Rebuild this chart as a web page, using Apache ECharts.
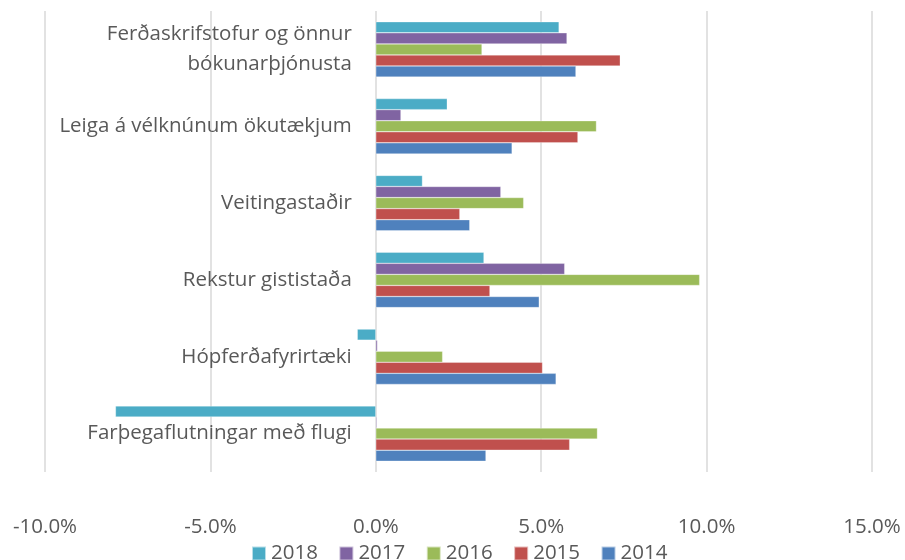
<!DOCTYPE html>
<html>
<head>
<meta charset="utf-8">
<script src="https://cdn.jsdelivr.net/npm/echarts@6/dist/echarts.min.js"></script>
<style>html,body{margin:0;padding:0;background:#fff}#c{width:905px;height:560px}</style>
</head>
<body>
<div id="c"></div>
<script>
var categories = ['Farþegaflutningar með flugi', 'Hópferðafyrirtæki', 'Rekstur gististaða', 'Veitingastaðir', 'Leiga á vélknúnum ökutækjum', 'Ferðaskrifstofur og önnur\nbókunarþjónusta'];
var years = ['2018', '2017', '2016', '2015', '2014'];
var legendOrder = ['2018', '2017', '2016', '2015', '2014'];
var v2014 = [3.33, 5.45, 4.94, 2.84, 4.12, 6.05];
var v2015 = [5.86, 5.04, 3.45, 2.54, 6.11, 7.39];
var v2016 = [6.70, 2.02, 9.79, 4.47, 6.67, 3.21];
var v2017 = [0.03, 0.05, 5.71, 3.78, 0.76, 5.78];
var v2018 = [-7.87, -0.56, 3.27, 1.41, 2.16, 5.54];
var xMin = -10, xMax = 15, xStep = 5;
var colors = {'2014': '#4F81BD', '2015': '#C0504D', '2016': '#9BBB59', '2017': '#8064A2', '2018': '#4BACC6'};
var values = {'2014': v2014, '2015': v2015, '2016': v2016, '2017': v2017, '2018': v2018};
var font = 'Open Sans';
var fs = 20.5;
var W = 905, gLeft = 45, gRight = 33;
var gridWidth = W - gLeft - gRight;
var zeroOffset = -((0 - xMin) / (xMax - xMin)) * gridWidth;
var chart = echarts.init(document.getElementById('c'), null, {renderer: 'canvas'});
chart.setOption({
  animation: false,
  textStyle: {fontFamily: font},
  grid: {left: gLeft, right: gRight, top: 11, bottom: 88, containLabel: false, outerBoundsMode: 'none'},
  legend: {
    data: legendOrder, top: 538, left: 246, itemWidth: 14, itemHeight: 14, itemGap: 20.5,
    icon: 'rect', textStyle: {fontSize: fs, color: '#595959', fontFamily: font}
  },
  xAxis: {
    type: 'value', min: xMin, max: xMax, interval: xStep,
    axisLine: {show: false}, axisTick: {show: false},
    splitLine: {lineStyle: {color: '#d9d9d9', width: 1.5}},
    axisLabel: {margin: 45, fontSize: fs, color: '#595959', fontFamily: font,
      formatter: function (v) { return v.toFixed(1) + '%'; }}
  },
  yAxis: {
    type: 'category', data: categories, offset: zeroOffset,
    axisLine: {show: false, onZero: false},
    axisTick: {show: false},
    axisLabel: {margin: 24, fontSize: fs, color: '#595959', lineHeight: 30, fontFamily: font}
  },
  series: years.map(function (y) {
    return {
      name: y, type: 'bar', data: values[y], barGap: '0%', barCategoryGap: '28%',
      itemStyle: {color: colors[y], borderColor: 'rgba(255,255,255,0.6)', borderWidth: 0.5}
    };
  })
});
</script>
</body>
</html>
